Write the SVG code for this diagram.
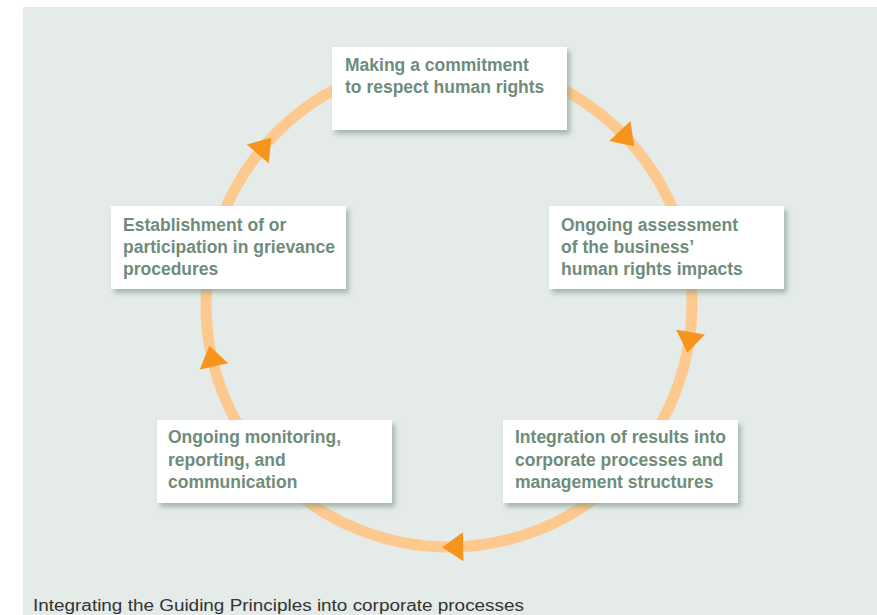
<svg xmlns="http://www.w3.org/2000/svg" width="877" height="615" viewBox="0 0 877 615">
<style>
.box{fill:#ffffff;filter:url(#sh)}
.lbl{font-family:"Liberation Sans",Arial,sans-serif;font-weight:bold;font-size:17.5px;fill:#6f8c7b}
.cap{font-family:"Liberation Sans",Arial,sans-serif;font-size:16px;fill:#333333}
.ring{fill:none;stroke:#fec98e;stroke-width:11}
.arr{fill:#f7941d}
</style>
<defs>
<filter id="sh" x="-10%" y="-15%" width="125%" height="140%">
<feDropShadow dx="3" dy="4" stdDeviation="2.5" flood-color="#6f8a7c" flood-opacity="0.55"/>
</filter>
<path id="ah" d="M11,0 L-10,-14.5 L-10,14.5 Z"/>
</defs>
<rect x="23" y="7" width="854" height="608" fill="#e4ebe8"/>
<g id="connectors">
<circle class="ring" cx="449" cy="304" r="243"/>
<use href="#ah" class="arr" transform="translate(626.7,138.3) rotate(47)"/>
<use href="#ah" class="arr" transform="translate(689,342) rotate(99)"/>
<use href="#ah" class="arr" transform="translate(453.2,547) rotate(179)"/>
<use href="#ah" class="arr" transform="translate(211.8,356.6) rotate(257.5)"/>
<use href="#ah" class="arr" transform="translate(264.2,146.2) rotate(310.5)"/>
</g>
<g id="n1">
<rect class="box" x="332" y="47" width="235" height="83"/>
<text class="lbl" x="345" y="71">Making a commitment</text>
<text class="lbl" x="345" y="93">to respect human rights</text>
</g>
<g id="n2">
<rect class="box" x="549" y="206" width="235" height="83"/>
<text class="lbl" x="561" y="231">Ongoing assessment</text>
<text class="lbl" x="561" y="253">of the business’</text>
<text class="lbl" x="561" y="275">human rights impacts</text>
</g>
<g id="n3">
<rect class="box" x="503" y="420" width="235" height="83"/>
<text class="lbl" x="515" y="443">Integration of results into</text>
<text class="lbl" x="515" y="465.5">corporate processes and</text>
<text class="lbl" x="515" y="488">management structures</text>
</g>
<g id="n4">
<rect class="box" x="157" y="420" width="235" height="83"/>
<text class="lbl" x="168" y="443">Ongoing monitoring,</text>
<text class="lbl" x="168" y="465.5">reporting, and</text>
<text class="lbl" x="168" y="488">communication</text>
</g>
<g id="n5">
<rect class="box" x="111" y="206" width="235" height="83"/>
<text class="lbl" x="123" y="231">Establishment of or</text>
<text class="lbl" x="123" y="253">participation in grievance</text>
<text class="lbl" x="123" y="275">procedures</text>
</g>
<text class="cap" x="33" y="611" textLength="491" lengthAdjust="spacingAndGlyphs">Integrating the Guiding Principles into corporate processes</text>
</svg>
